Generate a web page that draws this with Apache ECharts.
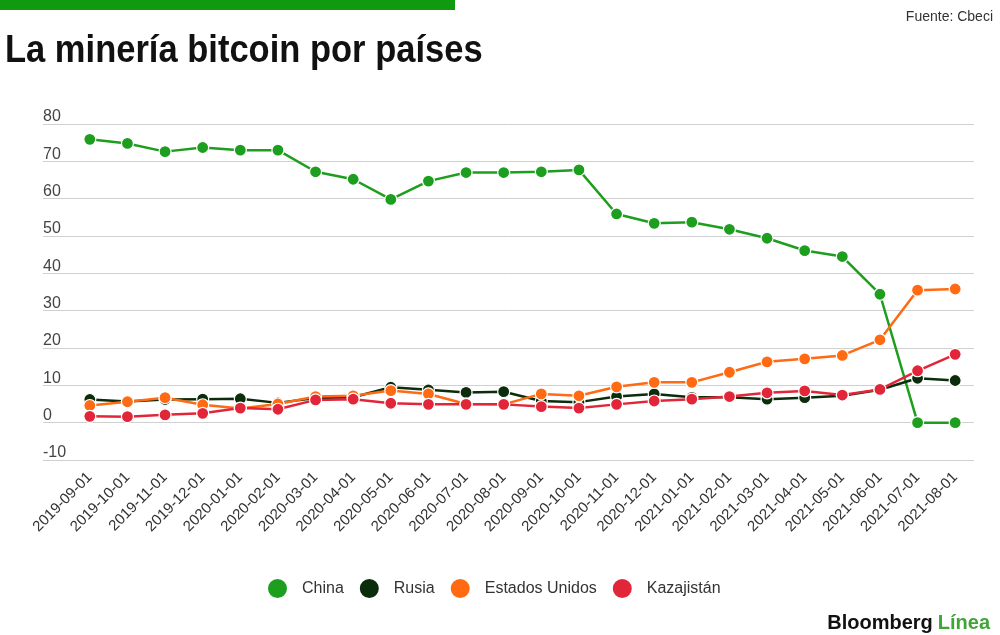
<!DOCTYPE html>
<html>
<head>
<meta charset="utf-8">
<script src="https://cdn.jsdelivr.net/npm/echarts@6/dist/echarts.min.js"></script>
<style>
html,body{margin:0;padding:0;background:#fff;}
#chart{width:1000px;height:635px;}
</style>
</head>
<body>
<div id="chart"></div>
<script>
const categories = ['2019-09-01','2019-10-01','2019-11-01','2019-12-01','2020-01-01','2020-02-01','2020-03-01','2020-04-01','2020-05-01','2020-06-01','2020-07-01','2020-08-01','2020-09-01','2020-10-01','2020-11-01','2020-12-01','2021-01-01','2021-02-01','2021-03-01','2021-04-01','2021-05-01','2021-06-01','2021-07-01','2021-08-01'];
const china = [75.9,74.8,72.6,73.7,73.0,73.0,67.2,65.2,59.8,64.7,67.0,67.0,67.2,67.7,55.9,53.4,53.7,51.8,49.4,46.1,44.5,34.4,0,0];
const rusia = [6.2,5.7,6.2,6.3,6.4,5.3,6.6,6.8,9.5,8.8,8.1,8.3,5.8,5.5,7.0,7.7,6.8,6.8,6.3,6.7,7.2,8.8,11.9,11.3];
const estadosUnidos = [4.6,5.6,6.7,4.8,3.8,5.0,7.0,7.2,8.6,7.7,5.0,4.9,7.7,7.2,9.6,10.8,10.8,13.5,16.3,17.1,18.0,22.2,35.5,35.8];
const kazajistan = [1.7,1.6,2.1,2.5,3.9,3.6,6.1,6.3,5.2,4.9,4.9,4.9,4.3,3.9,4.9,5.8,6.3,7.0,8.0,8.5,7.4,8.9,13.9,18.3];
const seriesNames = ['China','Rusia','Estados Unidos','Kazajistán'];
const yMin = -10, yMax = 80, yStep = 10;

const colors = {China:'#1e9e1e', Rusia:'#0c2d0c', 'Estados Unidos':'#ff6a12', 'Kazajistán':'#e2263a'};
const FONT = "'Liberation Sans',Arial,sans-serif";

function mkSeries(name, data){
  return {
    name: name, type: 'line', data: data, xAxisIndex: 0, yAxisIndex: 0,
    symbol: 'circle', symbolSize: 12, showSymbol: true,
    lineStyle: {width: 2.5, color: colors[name]},
    itemStyle: {color: colors[name], borderColor: '#fff', borderWidth: 1.2},
    emphasis: {disabled: true}
  };
}

const chart = echarts.init(document.getElementById('chart'), null, {renderer:'canvas'});
chart.setOption({
  animation: false,
  backgroundColor: '#fff',
  title: [{
    text: 'Fuente: Cbeci',
    right: 2, top: 5,
    textStyle: {fontFamily: FONT, fontWeight: 'normal', fontSize: 14, color: '#333'}
  },{
    text: '{a|Bloomberg} {b|Línea}',
    right: 5, top: 608,
    textStyle: {rich: {
      a: {fontFamily: FONT, fontWeight: 'bold', fontSize: 20, color: '#111'},
      b: {fontFamily: FONT, fontWeight: 'bold', fontSize: 20, color: '#3fa535'}
    }}
  }],
  graphic: [
    {type:'rect', x: 0, y: 0, shape:{x:0, y:0, width: 455, height: 10}, style:{fill:'#0f9a0f'}},
    {type:'text', x: 5, y: 51, scaleX: 0.885, scaleY: 1,
     style:{text: 'La minería bitcoin por países', x: 0, y: 0, verticalAlign: 'middle', align: 'left',
            font: "bold 39px 'Liberation Sans', Arial, sans-serif", fill: '#111'}}
  ],
  legend: {
    data: seriesNames,
    left: 261, top: 572,
    icon: 'circle', itemWidth: 21, itemHeight: 21, itemGap: 14,
    textStyle: {fontSize: 16, color: '#333', fontFamily: FONT, padding: [0,0,0,9]}
  },
  grid: [
    {left: 71, right: 26, top: 124, bottom: 175},
    {left: 43, right: 26, top: 124, bottom: 175}
  ],
  xAxis: [{
    type: 'category', gridIndex: 0, data: categories, boundaryGap: true,
    axisLine: {show: false}, axisTick: {show: false},
    axisLabel: {rotate: 45, margin: 15, fontSize: 15, color: '#333', fontFamily: FONT, interval: 0}
  },{
    type: 'value', gridIndex: 1, show: false
  }],
  yAxis: [{
    type: 'value', gridIndex: 0, min: yMin, max: yMax, interval: yStep,
    axisLabel: {show: false}, splitLine: {show: false}, axisLine: {show: false}, axisTick: {show: false}
  },{
    type: 'value', gridIndex: 1, min: yMin, max: yMax, interval: yStep,
    axisLine: {show: false}, axisTick: {show: false},
    splitLine: {show: true, lineStyle: {color: '#d0d0d0', width: 1}},
    axisLabel: {inside: true, margin: 0, verticalAlign: 'bottom', lineHeight: 14, padding: [0,0,0,0], fontSize: 16, color: '#444', fontFamily: FONT}
  }],
  series: seriesNames.map((n, i) => mkSeries(n, [china, rusia, estadosUnidos, kazajistan][i]))
});
</script>
</body>
</html>
